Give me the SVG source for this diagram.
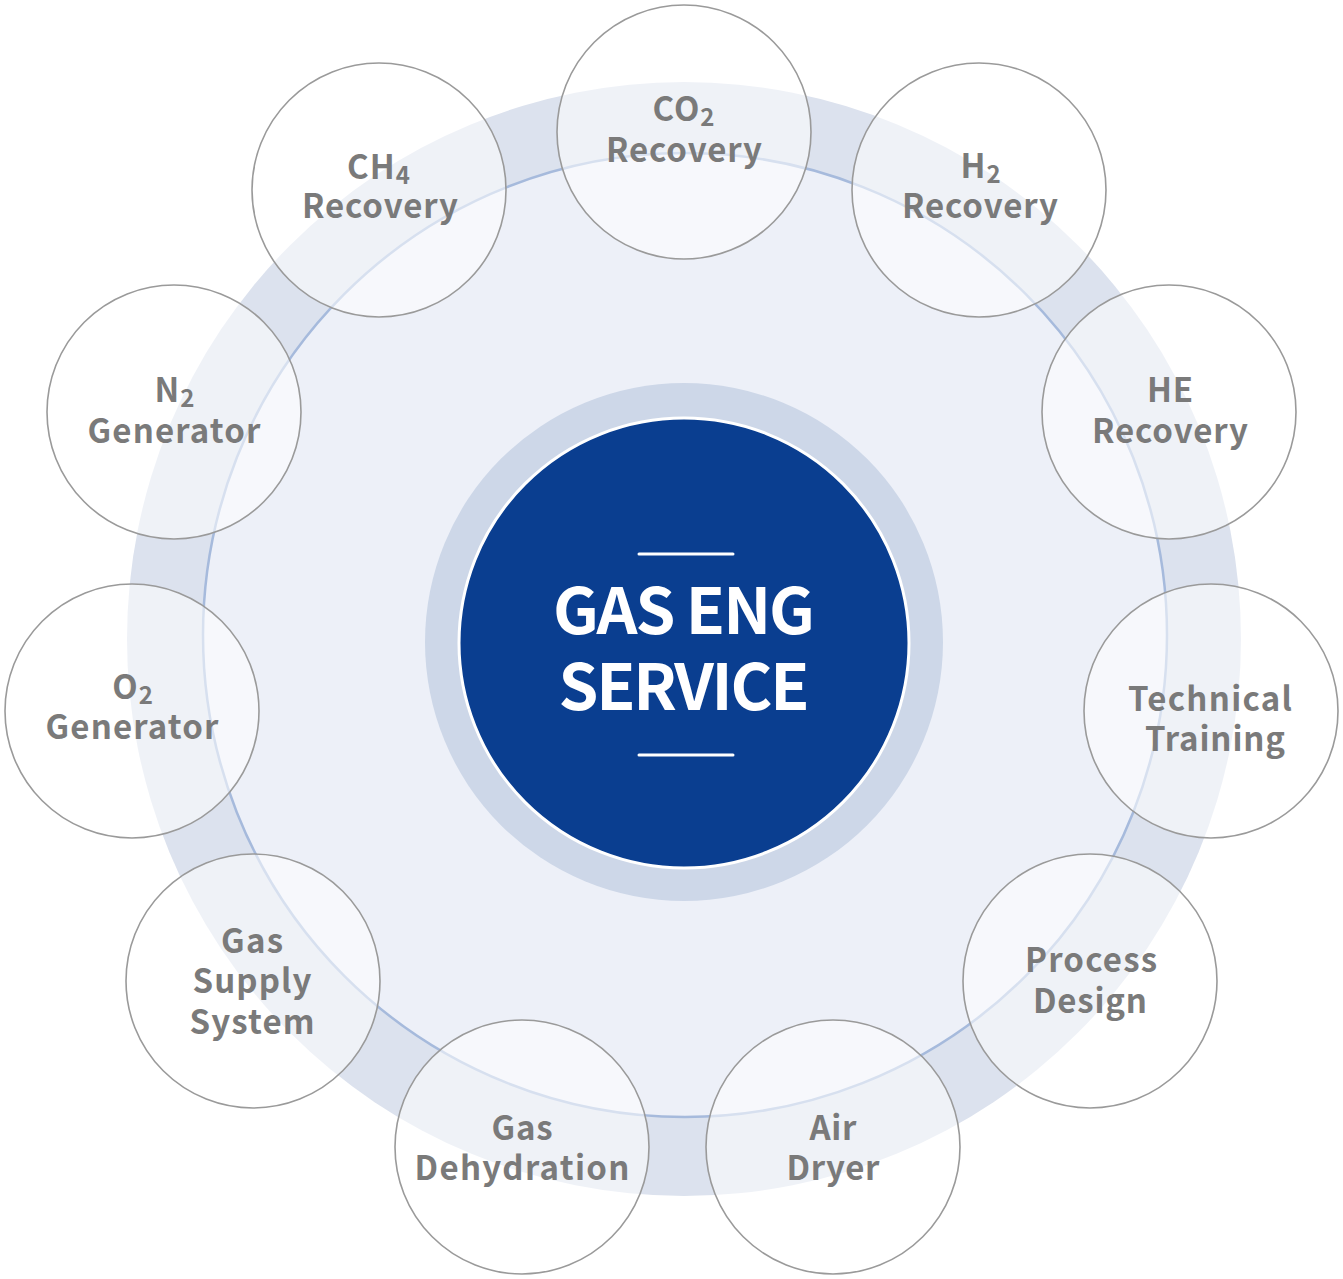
<svg xmlns="http://www.w3.org/2000/svg" width="1343" height="1279" viewBox="0 0 1343 1279">
<style>
.node circle{fill:#ffffff;fill-opacity:0.55;stroke:#9a9a9a;stroke-width:1.6}
.lbl{font-family:"Noto Sans CJK KR","Noto Sans",sans-serif;font-weight:700;font-size:33px;fill:#7a7a7a;text-anchor:middle}
.sub{font-size:24px}
.ctr{font-family:"Noto Sans CJK KR","Noto Sans",sans-serif;font-weight:700;font-size:64px;fill:#ffffff;text-anchor:middle}
</style>
<rect width="1343" height="1279" fill="#ffffff"/>
<g id="background">
<circle cx="684" cy="639" r="557" fill="#dce2ee"/>
<circle cx="685" cy="635" r="482" fill="#edf0f8" stroke="#a6badc" stroke-width="2.5"/>
</g>
<g id="center">
<circle cx="684" cy="642" r="259" fill="#cdd7e8"/>
<circle cx="684" cy="643" r="225" fill="#0a3e90" stroke="#ffffff" stroke-width="3"/>
<line x1="639" y1="554" x2="733" y2="554" stroke="#ffffff" stroke-width="3" stroke-linecap="round"/>
<line x1="639" y1="755" x2="733" y2="755" stroke="#ffffff" stroke-width="3" stroke-linecap="round"/>
<text class="ctr" x="684" y="634" textLength="262" lengthAdjust="spacing">GAS ENG</text>
<text class="ctr" x="684" y="710" textLength="251" lengthAdjust="spacing">SERVICE</text>
</g>
<g id="connectors"></g>
<g id="node-co2" class="node">
<circle cx="684" cy="132" r="127"/>
<text class="lbl" x="684" y="121" letter-spacing="1">CO<tspan class="sub" dy="5">2</tspan></text>
<text class="lbl" x="684" y="162" textLength="156" lengthAdjust="spacing">Recovery</text>
</g>
<g id="node-h2" class="node">
<circle cx="979" cy="190" r="127"/>
<text class="lbl" x="981" y="178" letter-spacing="1">H<tspan class="sub" dy="5">2</tspan></text>
<text class="lbl" x="980" y="218" textLength="156" lengthAdjust="spacing">Recovery</text>
</g>
<g id="node-he" class="node">
<circle cx="1169" cy="412" r="127"/>
<text class="lbl" x="1170" y="402" textLength="46" lengthAdjust="spacing">HE</text>
<text class="lbl" x="1170" y="443" textLength="156" lengthAdjust="spacing">Recovery</text>
</g>
<g id="node-technical-training" class="node">
<circle cx="1211" cy="711" r="127"/>
<text class="lbl" x="1210" y="711" textLength="164" lengthAdjust="spacing">Technical</text>
<text class="lbl" x="1215" y="751" textLength="140" lengthAdjust="spacing">Training</text>
</g>
<g id="node-process-design" class="node">
<circle cx="1090" cy="981" r="127"/>
<text class="lbl" x="1091" y="972" textLength="132" lengthAdjust="spacing">Process</text>
<text class="lbl" x="1090" y="1013" textLength="114" lengthAdjust="spacing">Design</text>
</g>
<g id="node-air-dryer" class="node">
<circle cx="833" cy="1147" r="127"/>
<text class="lbl" x="833" y="1140" textLength="47" lengthAdjust="spacing">Air</text>
<text class="lbl" x="833" y="1180" textLength="93" lengthAdjust="spacing">Dryer</text>
</g>
<g id="node-gas-dehydration" class="node">
<circle cx="522" cy="1147" r="127"/>
<text class="lbl" x="522" y="1140" textLength="61" lengthAdjust="spacing">Gas</text>
<text class="lbl" x="522" y="1180" textLength="215" lengthAdjust="spacing">Dehydration</text>
</g>
<g id="node-gas-supply-system" class="node">
<circle cx="253" cy="981" r="127"/>
<text class="lbl" x="252" y="953" textLength="62" lengthAdjust="spacing">Gas</text>
<text class="lbl" x="252" y="993" textLength="119" lengthAdjust="spacing">Supply</text>
<text class="lbl" x="252" y="1034" textLength="125" lengthAdjust="spacing">System</text>
</g>
<g id="node-o2" class="node">
<circle cx="132" cy="711" r="127"/>
<text class="lbl" x="133" y="699" letter-spacing="1">O<tspan class="sub" dy="5">2</tspan></text>
<text class="lbl" x="132" y="739" textLength="173" lengthAdjust="spacing">Generator</text>
</g>
<g id="node-n2" class="node">
<circle cx="174" cy="412" r="127"/>
<text class="lbl" x="175" y="402" letter-spacing="1">N<tspan class="sub" dy="5">2</tspan></text>
<text class="lbl" x="174" y="443" textLength="173" lengthAdjust="spacing">Generator</text>
</g>
<g id="node-ch4" class="node">
<circle cx="379" cy="190" r="127"/>
<text class="lbl" x="379" y="179" letter-spacing="1">CH<tspan class="sub" dy="5">4</tspan></text>
<text class="lbl" x="380" y="218" textLength="156" lengthAdjust="spacing">Recovery</text>
</g>
</svg>
